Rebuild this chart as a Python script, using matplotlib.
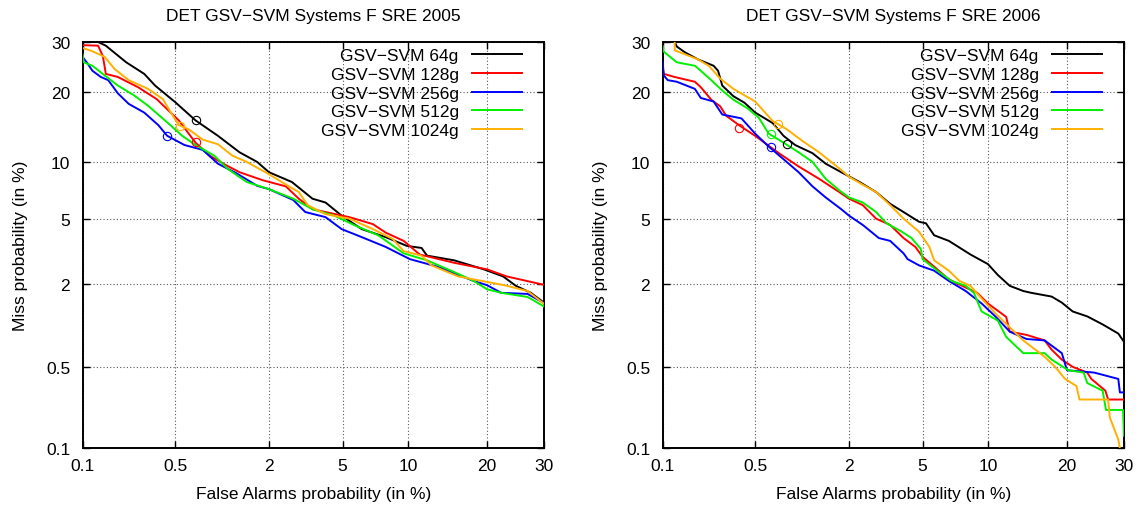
import statistics as st
import numpy as np
import matplotlib
matplotlib.use('Agg')
import matplotlib.pyplot as plt

# DET curves, values in % (false alarm, miss)
labels = ['GSV\u2212SVM 64g', 'GSV\u2212SVM 128g', 'GSV\u2212SVM 256g',
          'GSV\u2212SVM 512g', 'GSV\u2212SVM 1024g']
colors = ['#000000', '#ff0000', '#0000ff', '#00f000', '#ffb000']

# --- SRE 2005 ---
fa_64_05 = [0.1, 0.133, 0.153, 0.22, 0.3, 0.36, 0.5, 0.69, 0.97, 1.33, 1.7, 2.0, 2.7, 3.5, 4.1,
            4.95, 6.2, 8.0, 9.9, 11.4, 12.0, 15.3, 19.5, 22.6, 24.8, 27.5, 30.0]
miss_64_05 = [30, 30, 29.2, 25.7, 23.4, 21.2, 18.3, 15.4, 13.2, 11.1, 10.0, 8.9, 7.95, 6.5, 6.2,
              5.25, 4.4, 3.95, 3.5, 3.4, 3.05, 2.85, 2.5, 2.25, 1.95, 1.75, 1.5]
fa_128_05 = [0.1, 0.133, 0.145, 0.15, 0.153, 0.19, 0.27, 0.37, 0.47, 0.53, 0.69, 0.86, 1.05, 1.33,
             1.85, 2.5, 2.95, 3.5, 4.1, 5.4, 7.0, 8.0, 9.6, 11.2, 15.3, 20.0, 23.2, 30.0]
miss_128_05 = [29.3, 29.2, 27, 24.8, 23.4, 22.8, 20.9, 18.8, 16.5, 15.4, 12.3, 10.7, 9.8, 8.9,
               8.1, 7.55, 6.5, 5.7, 5.5, 5.15, 4.7, 4.2, 3.75, 3.1, 2.75, 2.5, 2.25, 1.98]
fa_256_05 = [0.1, 0.11, 0.12, 0.14, 0.16, 0.19, 0.23, 0.3, 0.38, 0.44, 0.58, 0.77, 0.97, 1.27, 1.7,
             2.0, 2.75, 3.2, 4.1, 4.95, 6.2, 8.0, 10.2, 13.2, 18.0, 20.0, 22.3, 26.9, 30.0]
miss_256_05 = [26.8, 25.4, 24, 22.8, 22.2, 19.8, 18, 16.6, 14.7, 13.2, 12, 11.4, 9.8, 8.8, 7.6,
               7.3, 6.4, 5.5, 5.15, 4.4, 3.95, 3.45, 2.9, 2.6, 2.1, 1.97, 1.75, 1.72, 1.49]
fa_512_05 = [0.1, 0.102, 0.12, 0.15, 0.19, 0.25, 0.32, 0.44, 0.56, 0.69, 0.92, 1.13, 1.47, 2.0,
             2.75, 3.5, 4.55, 5.8, 7.4, 9.6, 12.0, 15.3, 18.0, 20.0, 22.3, 26.9, 30.0]
miss_512_05 = [27.3, 25.7, 25, 23.1, 21.2, 19.5, 17.7, 15.1, 13.2, 12, 10.7, 9.2, 7.95, 7.3,
               6.5, 5.7, 5.25, 4.6, 4.05, 3.15, 2.85, 2.4, 2.1, 1.85, 1.75, 1.64, 1.41]
fa_1024_05 = [0.1, 0.12, 0.15, 0.18, 0.23, 0.32, 0.41, 0.47, 0.53, 0.62, 0.77, 0.97, 1.2, 1.47,
              2.0, 2.6, 2.95, 3.3, 4.1, 5.4, 7.0, 8.6, 9.6, 11.4, 12.5, 15.8, 20.0, 22.8, 26.9, 30.0]
miss_1024_05 = [28.7, 28, 26.8, 24.3, 22.2, 20.6, 18.8, 16.5, 14.7, 14.1, 12.7, 12.1, 10.7, 10.0,
                8.7, 7.55, 7.05, 6.0, 5.35, 5.05, 4.4, 3.85, 3.25, 3.05, 2.65, 2.25, 2.07, 1.97, 1.8, 1.47]
# min DCF points
dcf_fa_05 = [0.7, 0.69, 0.44, None, 0.54]
dcf_miss_05 = [15.5, 12.4, 13.2, None, 14.6]

# --- SRE 2006 ---
fa_64_06 = [0.125, 0.13, 0.15, 0.19, 0.25, 0.27, 0.29, 0.35, 0.42, 0.5, 0.66, 0.78, 0.93, 1.2,
            1.45, 1.8, 2.3, 2.85, 3.4, 4.0, 4.8, 5.2, 5.7, 6.7, 8.4, 10.0, 11.0, 12.3, 13.9, 14.9,
            17.7, 19.2, 20.9, 23.3, 26.0, 28.9, 30.0]
miss_64_06 = [30, 29, 27.8, 26.3, 25, 24, 21.2, 19.3, 18.2, 16.6, 15, 13.2, 12, 11, 9.8, 8.9,
              7.95, 7.05, 6.1, 5.5, 4.85, 4.75, 4.05, 3.75, 3.1, 2.7, 2.3, 1.95, 1.8, 1.75, 1.65,
              1.5, 1.3, 1.2, 1.05, 0.9, 0.78]
fa_128_06 = [0.1, 0.102, 0.125, 0.18, 0.2, 0.24, 0.28, 0.31, 0.39, 0.5, 0.6, 0.74, 0.98, 1.32,
             1.75, 2.0, 2.4, 2.85, 3.4, 4.0, 4.6, 5.0, 5.7, 6.7, 7.7, 9.0, 10.0, 11.9, 12.3, 14.3,
             16.7, 17.7, 19.2, 20.9, 23.3, 24.0, 26.5, 27.0, 30.0]
miss_128_06 = [24.7, 23.4, 22.8, 21.9, 20.9, 18.7, 17.6, 16.1, 14.6, 13.2, 12.1, 10.9, 9.5, 8.25,
               7.05, 6.5, 6.0, 5.05, 4.65, 3.9, 3.45, 3.0, 2.6, 2.15, 1.95, 1.75, 1.48, 1.19, 0.93,
               0.88, 0.8, 0.68, 0.57, 0.5, 0.45, 0.4, 0.32, 0.27, 0.27]
fa_256_06 = [0.1, 0.102, 0.11, 0.13, 0.18, 0.2, 0.25, 0.29, 0.4, 0.5, 0.62, 0.78, 0.98, 1.2, 1.45,
             1.8, 2.0, 2.4, 2.95, 3.4, 4.0, 4.2, 4.8, 5.7, 6.7, 8.0, 9.4, 10.8, 12.3, 14.3, 16.7,
             19.2, 20.0, 24.5, 28.9, 29.2, 30.0]
miss_256_06 = [25.8, 23.1, 22.2, 21.9, 20.6, 19, 18.4, 16.3, 15.7, 13.5, 11.8, 10.3, 8.9, 7.55,
               6.6, 5.7, 5.25, 4.65, 3.9, 3.75, 3.15, 2.9, 2.65, 2.45, 2.1, 1.8, 1.48, 1.19, 0.93,
               0.82, 0.8, 0.64, 0.47, 0.45, 0.4, 0.31, 0.31]
fa_512_06 = [0.1, 0.102, 0.13, 0.18, 0.2, 0.24, 0.29, 0.35, 0.44, 0.53, 0.62, 0.78, 0.98, 1.2,
             1.45, 1.75, 2.0, 2.4, 2.85, 3.25, 3.85, 4.4, 4.9, 5.0, 5.9, 6.9, 8.0, 8.7, 9.4, 11.0,
             11.9, 13.9, 16.7, 17.7, 20.2, 22.7, 23.3, 26.0, 26.6, 29.8, 30.0]
miss_512_06 = [29.1, 27.9, 25.7, 25, 24, 22.2, 20.3, 18.7, 17.3, 15.8, 13.5, 12.3, 11.1, 10,
               8.25, 7.2, 6.6, 6.2, 5.5, 4.75, 4.3, 3.9, 3.35, 2.9, 2.45, 2.1, 1.95, 1.75, 1.3,
               1.12, 0.85, 0.64, 0.64, 0.57, 0.47, 0.45, 0.37, 0.32, 0.22, 0.22, 0.13]
fa_1024_06 = [0.125, 0.125, 0.19, 0.23, 0.28, 0.35, 0.5, 0.66, 0.82, 1.04, 1.32, 1.75, 2.0, 2.4,
              2.85, 3.4, 4.0, 4.8, 5.4, 5.7, 6.7, 7.5, 8.4, 9.4, 10.8, 12.3, 13.9, 16.7, 18.2,
              19.7, 21.5, 22.0, 27.0, 27.3, 28.9, 29.2]
miss_1024_06 = [30, 28.2, 26.3, 25, 22.5, 20.6, 18.4, 15.3, 14.1, 12.5, 11.1, 9.3, 8.45, 7.7,
                7.05, 6.0, 5.05, 4.25, 3.45, 2.85, 2.45, 2.1, 1.95, 1.6, 1.25, 1.0, 0.8, 0.6, 0.5,
                0.4, 0.35, 0.27, 0.27, 0.19, 0.12, 0.1]
dcf_fa_06 = [0.82, 0.385, 0.645, 0.645, 0.72]
dcf_miss_06 = [12.1, 14.3, 11.8, 13.4, 14.8]

ticks = [0.1, 0.5, 2, 5, 10, 20, 30]
tick_labels = ['0.1', '0.5', '2', '5', '10', '20', '30']

nd = st.NormalDist()
_ppf = np.vectorize(nd.inv_cdf, otypes=[float])
_cdf = np.vectorize(nd.cdf, otypes=[float])


def fwd(p):
    p = np.clip(np.asarray(p, dtype=float) / 100.0, 1e-9, 1 - 1e-9)
    return _ppf(p)


def inv(z):
    return _cdf(np.asarray(z, dtype=float)) * 100.0


plt.rcParams['font.family'] = ['Liberation Sans', 'DejaVu Sans']
plt.rcParams['font.size'] = 12.5

fig = plt.figure(figsize=(11.4, 5.1), dpi=100)
ax1 = fig.add_axes([0.0725, 0.119, 0.4047, 0.7967])
ax2 = fig.add_axes([0.5813, 0.119, 0.4047, 0.7967])

data = [
    (ax1, 'DET GSV\u2212SVM Systems F SRE 2005',
     [(fa_64_05, miss_64_05), (fa_128_05, miss_128_05), (fa_256_05, miss_256_05),
      (fa_512_05, miss_512_05), (fa_1024_05, miss_1024_05)], dcf_fa_05, dcf_miss_05),
    (ax2, 'DET GSV\u2212SVM Systems F SRE 2006',
     [(fa_64_06, miss_64_06), (fa_128_06, miss_128_06), (fa_256_06, miss_256_06),
      (fa_512_06, miss_512_06), (fa_1024_06, miss_1024_06)], dcf_fa_06, dcf_miss_06),
]

for ax, title, curves, dfa, dmiss in data:
    ax.set_xscale('function', functions=(fwd, inv))
    ax.set_yscale('function', functions=(fwd, inv))
    ax.set_xlim(0.1, 30)
    ax.set_ylim(0.1, 30)
    for i, (fa, miss) in enumerate(curves):
        ax.plot(fa, miss, color=colors[i], lw=1.4, label=labels[i], zorder=3)
    for i in range(5):
        if dfa[i] is not None:
            ax.plot(dfa[i], dmiss[i], 'o', mfc='none', mec=colors[i], ms=6, mew=0.8, zorder=4)
    ax.set_xticks(ticks)
    ax.set_xticklabels(tick_labels)
    ax.set_yticks(ticks)
    ax.set_yticklabels(tick_labels)
    ax.minorticks_off()
    ax.tick_params(direction='in', length=5, width=1, top=True, right=True)
    ax.tick_params(axis='x', pad=7)
    ax.tick_params(axis='y', pad=9)
    ax.grid(True, color='0.35', linestyle=(0, (1, 2)), lw=0.8)
    for s in ax.spines.values():
        s.set_linewidth(1.4)
    ax.set_title(title, fontsize=12.5, pad=16)
    ax.set_xlabel('False Alarms probability (in %)', labelpad=9)
    ax.set_ylabel('Miss probability (in %)', labelpad=13)
    leg = ax.legend(loc='upper right', bbox_to_anchor=(0.975, 1.01), frameon=False,
                    markerfirst=False, handlelength=2.9, labelspacing=0.2,
                    borderaxespad=0.3, handletextpad=0.75, borderpad=0.3)

fig.savefig('out.png', dpi=100)
